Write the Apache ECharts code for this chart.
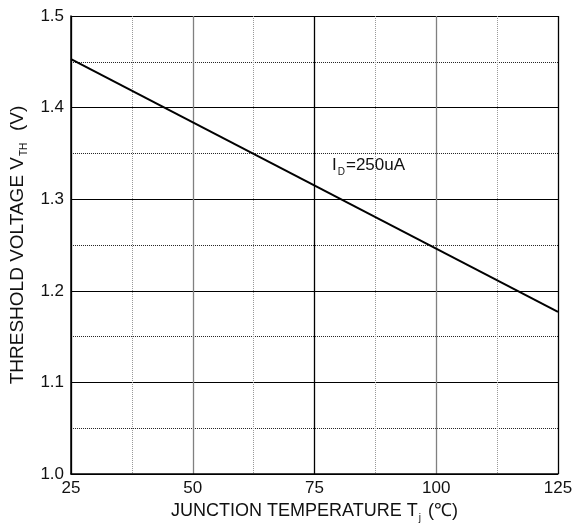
<!DOCTYPE html>
<html><head><meta charset="utf-8">
<script src="https://cdn.jsdelivr.net/npm/echarts@6/dist/echarts.min.js"></script>
<style>html,body{margin:0;padding:0;background:#fff}#c{width:580px;height:528px}</style>
</head><body><div id="c"></div>
<script>
const temps = [25, 125];
const vth = [1.453, 1.177];
const xTicks = [25, 50, 75, 100, 125];
const yTicks = [1.0, 1.1, 1.2, 1.3, 1.4, 1.5];
const annotation = {x: 78.6, y: 1.337, main: 'I', sub: 'D', rest: '=250uA'};

const FONT = 'Liberation Sans, Arial, sans-serif';
const chart = echarts.init(document.getElementById('c'));
chart.setOption({
  animation: false,
  backgroundColor: '#fff',
  grid: {left: 70, right: 22, top: 16, bottom: 51},
  xAxis: {
    type: 'value', min: 25, max: 125, interval: 25,
    axisLine: {show: true, lineStyle: {color: '#000', width: 1.5}},
    axisTick: {show: false},
    axisLabel: {color: '#111', fontSize: 17, fontFamily: FONT, margin: 6},
    splitLine: {show: true, lineStyle: {color: ['#000', '#808080', '#000', '#808080', '#000'], width: 1.3}},
    minorTick: {show: false, splitNumber: 2},
    minorSplitLine: {show: true, lineStyle: {color: '#999', type: [1, 1], width: 1}},
    name: '{a|JUNCTION TEMPERATURE T}{s|j}{a| (℃)}',
    nameLocation: 'middle', nameGap: 22,
    nameTextStyle: {rich: {a: {fontSize: 18, fontFamily: FONT, color: '#111'}, s: {fontSize: 10, fontFamily: FONT, color: '#111', padding: [14, 2, 0, 1]}}}
  },
  yAxis: {
    type: 'value', min: 1.0, max: 1.5, interval: 0.1,
    axisLine: {show: true, lineStyle: {color: '#000', width: 1.5}},
    axisTick: {show: false},
    axisLabel: {color: '#111', fontSize: 17, fontFamily: FONT, margin: 7, formatter: v => v.toFixed(1)},
    splitLine: {show: true, lineStyle: {color: '#000', width: 1.2}},
    minorTick: {show: false, splitNumber: 2},
    minorSplitLine: {show: true, lineStyle: {color: '#222', type: [1, 1], width: 1}},
    name: '{a|THRESHOLD VOLTAGE V}{s|TH}{a|  (V)}',
    nameLocation: 'middle', nameGap: 34, nameRotate: 90,
    nameTextStyle: {rich: {a: {fontSize: 19, fontFamily: FONT, color: '#111'}, s: {fontSize: 10, fontFamily: FONT, color: '#111', padding: [14, 1, 0, 1]}}}
  },
  series: [{
    type: 'line', data: temps.map((t, i) => [t, vth[i]]),
    symbol: 'none', lineStyle: {color: '#000', width: 2},
    markPoint: {
      symbol: 'circle', symbolSize: 0,
      data: [{coord: [annotation.x, annotation.y]}],
      label: {show: true, position: 'right', distance: 0,
        formatter: '{a|' + annotation.main + '}{s|' + annotation.sub + '}{a|' + annotation.rest + '}',
        rich: {a: {fontSize: 17, fontFamily: FONT, color: '#111'}, s: {fontSize: 10, fontFamily: FONT, color: '#111', padding: [13, 1, 0, 1]}}}
    }
  }]
});
</script></body></html>
